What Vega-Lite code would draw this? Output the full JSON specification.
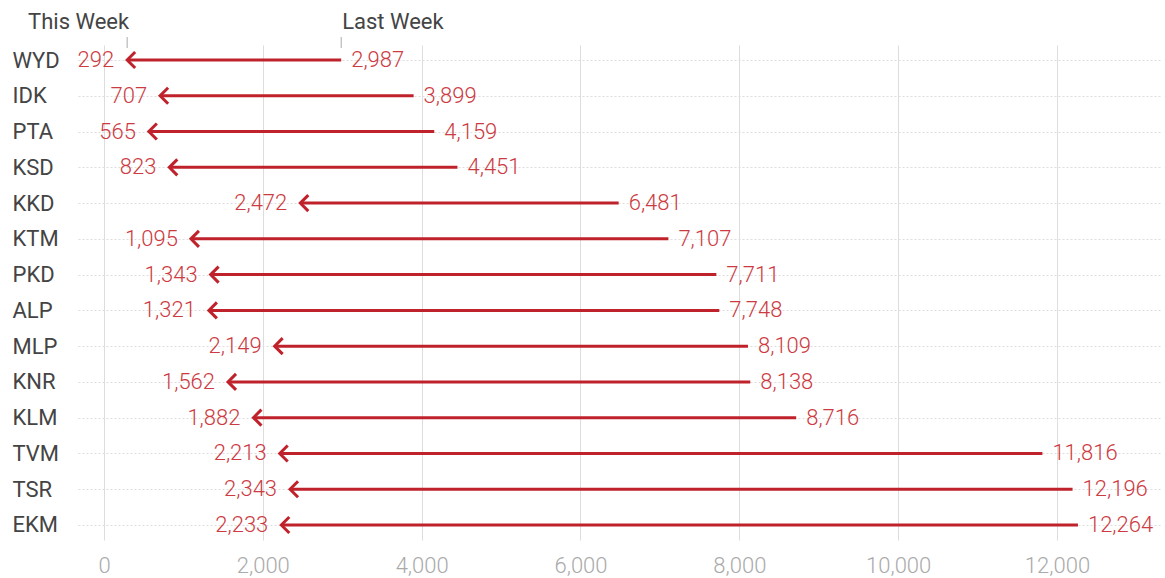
{
  "$schema": "https://vega.github.io/schema/vega-lite/v6.json",
  "autosize": {"type": "none"},
  "width": 1082,
  "height": 495,
  "padding": {"left": 78, "top": 45, "right": 5, "bottom": 38},
  "background": "white",
  "config": {
    "view": {"stroke": null},
    "font": "Roboto",
    "text": {"font": "Roboto"},
    "axisX": {
      "title": null,
      "labelExpr": "format(datum.value, ',')",
      "domain": false,
      "ticks": false,
      "labelFontSize": 22,
      "labelFontWeight": 300,
      "labelColor": "#aaaaaa",
      "labelFont": "Roboto",
      "labelPadding": 15,
      "grid": true,
      "gridColor": "#dddddd",
      "gridWidth": 1
    }
  },
  "data": {
    "values": [
      {"region": "WYD", "this": 292, "last": 2987},
      {"region": "IDK", "this": 707, "last": 3899},
      {"region": "PTA", "this": 565, "last": 4159},
      {"region": "KSD", "this": 823, "last": 4451},
      {"region": "KKD", "this": 2472, "last": 6481},
      {"region": "KTM", "this": 1095, "last": 7107},
      {"region": "PKD", "this": 1343, "last": 7711},
      {"region": "ALP", "this": 1321, "last": 7748},
      {"region": "MLP", "this": 2149, "last": 8109},
      {"region": "KNR", "this": 1562, "last": 8138},
      {"region": "KLM", "this": 1882, "last": 8716},
      {"region": "TVM", "this": 2213, "last": 11816},
      {"region": "TSR", "this": 2343, "last": 12196},
      {"region": "EKM", "this": 2233, "last": 12264}
    ]
  },
  "encoding": {
    "y": {
      "field": "region",
      "type": "nominal",
      "sort": null,
      "scale": {"type": "point", "padding": 0.42},
      "axis": {
        "title": null,
        "domain": false,
        "ticks": false,
        "labelFontSize": 22,
        "labelFontWeight": 400,
        "labelColor": "#444444",
        "labelFont": "Roboto",
        "labelAlign": "left",
        "labelPadding": 66,
        "grid": true,
        "gridColor": "#dddddd",
        "gridDash": [2, 2],
        "gridWidth": 1
      }
    }
  },
  "layer": [
    {
      "mark": {"type": "rule", "color": "#c0222b", "strokeWidth": 3},
      "encoding": {
        "x": {
          "field": "last",
          "type": "quantitative",
          "scale": {"domain": [-327, 13297], "nice": false, "zero": false},
          "axis": {"values": [0, 2000, 4000, 6000, 8000, 10000, 12000]}
        },
        "x2": {"field": "this"}
      }
    },
    {
      "mark": {"type": "point", "shape": "M 1 -1 L 0 0 L 1 1", "filled": false, "size": 256, "stroke": "#c0222b", "strokeWidth": 3, "opacity": 1},
      "encoding": {
        "x": {"field": "this", "type": "quantitative"}
      }
    },
    {
      "mark": {"type": "text", "align": "right", "baseline": "middle", "dx": -13, "fontSize": 22, "fontWeight": 300, "color": "#cc3a42", "font": "Roboto"},
      "encoding": {
        "x": {"field": "this", "type": "quantitative"},
        "text": {"field": "this", "type": "quantitative", "format": ","}
      }
    },
    {
      "mark": {"type": "text", "align": "left", "baseline": "middle", "dx": 10, "fontSize": 22, "fontWeight": 300, "color": "#cc3a42", "font": "Roboto"},
      "encoding": {
        "x": {"field": "last", "type": "quantitative"},
        "text": {"field": "last", "type": "quantitative", "format": ","}
      }
    },
    {
      "transform": [{"filter": "datum.region === 'WYD'"}],
      "mark": {"type": "rule", "color": "#aaaaaa", "strokeWidth": 1, "yOffset": -23, "y2Offset": -12},
      "encoding": {
        "x": {"field": "this", "type": "quantitative"},
        "y2": {"field": "region"}
      }
    },
    {
      "transform": [{"filter": "datum.region === 'WYD'"}],
      "mark": {"type": "rule", "color": "#aaaaaa", "strokeWidth": 1, "yOffset": -23, "y2Offset": -12},
      "encoding": {
        "x": {"field": "last", "type": "quantitative"},
        "y2": {"field": "region"}
      }
    },
    {
      "transform": [{"filter": "datum.region === 'WYD'"}],
      "mark": {"type": "text", "text": "This Week", "align": "right", "baseline": "middle", "dx": 2, "dy": -38, "fontSize": 22, "fontWeight": 400, "color": "#444444", "font": "Roboto"},
      "encoding": {
        "x": {"field": "this", "type": "quantitative"}
      }
    },
    {
      "transform": [{"filter": "datum.region === 'WYD'"}],
      "mark": {"type": "text", "text": "Last Week", "align": "left", "baseline": "middle", "dx": 1, "dy": -38, "fontSize": 22, "fontWeight": 400, "color": "#444444", "font": "Roboto"},
      "encoding": {
        "x": {"field": "last", "type": "quantitative"}
      }
    }
  ]
}
